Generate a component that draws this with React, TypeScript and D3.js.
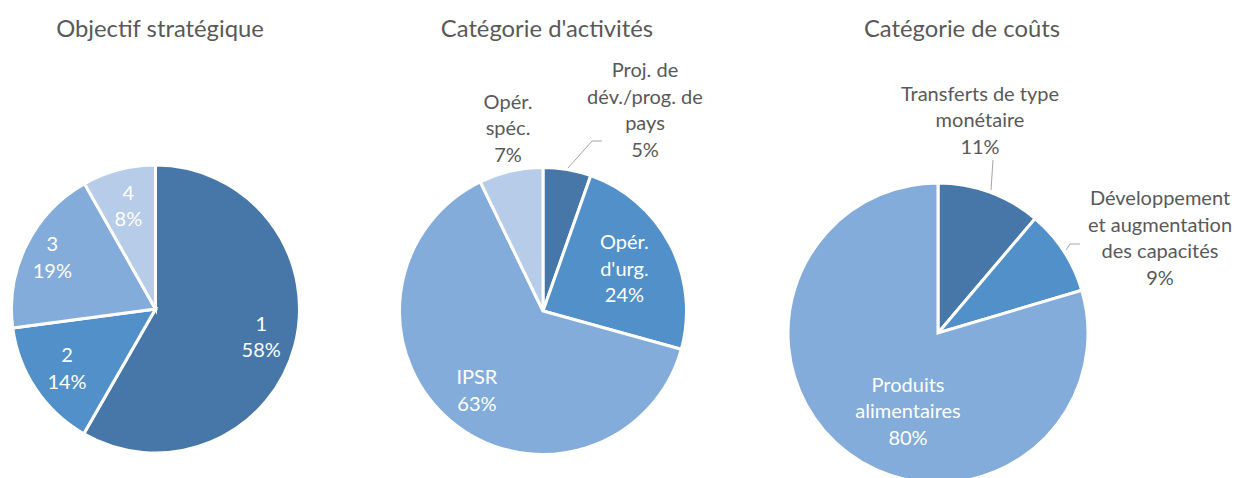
import React from "react";
import * as d3 from "d3";

// ---- Data ----
const objectifLabels = ["1", "2", "3", "4"];
const objectifValues = [58.3, 14.6, 18.9, 8.2];
const objectifPct = ["58%", "14%", "19%", "8%"];

const activitesLabels = [["Proj. de", "dév./prog. de", "pays"], ["Opér.", "d'urg."], ["IPSR"], ["Opér.", "spéc."]];
const activitesValues = [5.4, 23.9, 63.5, 7.2];
const activitesPct = ["5%", "24%", "63%", "7%"];

const coutsLabels = [["Transferts de type", "monétaire"], ["Développement", "et augmentation", "des capacités"], ["Produits", "alimentaires"]];
const coutsValues = [11.2, 9.2, 79.6];
const coutsPct = ["11%", "9%", "80%"];

const titles = ["Objectif stratégique", "Catégorie d'activités", "Catégorie de coûts"];

const sliceColors = ["#4677A8", "#5190C8", "#83ACDA", "#B6CCE8"];

// ---- Layout (styles / positions) ----
const FONT = "Lato, 'Open Sans', sans-serif";
const LINE_H = 26.5;
const LABEL_SIZE = 20;

type LabelSpec = { inside: boolean; dx?: number; dy?: number; frac?: number; leader?: [number, number][] };

const charts = [
  {
    title: titles[0], titleX: 160, cx: 155.5, cy: 309, r: 144,
    values: objectifValues, colors: sliceColors,
    lines: objectifLabels.map((l, i) => [l, objectifPct[i]]),
    labels: [
      { inside: true, frac: 0.76 }, { inside: true, frac: 0.74 }, { inside: true, frac: 0.8 }, { inside: true, frac: 0.74 },
    ] as LabelSpec[],
  },
  {
    title: titles[1], titleX: 547, cx: 543, cy: 311, r: 143.5,
    values: activitesValues, colors: sliceColors,
    lines: activitesLabels.map((l, i) => [...l, activitesPct[i]]),
    labels: [
      { inside: false, dx: 102, dy: -201, leader: [[25, -143], [49, -170], [59, -170]] },
      { inside: true, frac: 0.64 },
      { inside: true, frac: 0.72 },
      { inside: false, dx: -35, dy: -183 },
    ] as LabelSpec[],
  },
  {
    title: titles[2], titleX: 962, cx: 938, cy: 333, r: 150,
    values: coutsValues, colors: [sliceColors[0], sliceColors[1], sliceColors[2]],
    lines: coutsLabels.map((l, i) => [...l, coutsPct[i]]),
    labels: [
      { inside: false, dx: 42, dy: -213, leader: [[53, -143], [55, -173]] },
      { inside: false, dx: 222, dy: -95, leader: [[128, -83], [132, -89], [142, -89]] },
      { inside: true, dx: -30, dy: 78 },
    ] as LabelSpec[],
  },
];

function Pie({ c }: { c: (typeof charts)[number] }) {
  const pie = d3.pie<number>().sort(null).value((d) => d)(c.values);
  const arc = d3.arc<d3.PieArcDatum<number>>().innerRadius(0).outerRadius(c.r);
  return (
    <g>
      <text x={c.titleX} y={37} textAnchor="middle" fontFamily={FONT} fontSize={23.8} fill="#595959">
        {c.title}
      </text>
      <g transform={`translate(${c.cx},${c.cy})`}>
        {pie.map((p, i) => (
          <path key={i} d={arc(p) || ""} fill={c.colors[i]} stroke="#fff" strokeWidth={3} strokeLinejoin="miter" />
        ))}
        {pie.map((p, i) => {
          const spec = c.labels[i];
          const lines = c.lines[i];
          let x: number, y: number;
          if (spec.dx === undefined) {
            const a = (p.startAngle + p.endAngle) / 2;
            const rr = c.r * (spec.frac ?? 0.7);
            x = Math.sin(a) * rr;
            y = -Math.cos(a) * rr;
          } else {
            x = spec.dx!;
            y = spec.dy!;
          }
          const y0 = y - ((lines.length - 1) * LINE_H) / 2;
          return (
            <g key={"l" + i}>
              {spec.leader && (
                <polyline points={spec.leader.map((q) => q.join(",")).join(" ")} fill="none" stroke="#A6A6A6" strokeWidth={1} />
              )}
              <text textAnchor="middle" fontFamily={FONT} fontSize={LABEL_SIZE} fill={spec.inside ? "#fff" : "#595959"}>
                {lines.map((t, k) => (
                  <tspan key={k} x={x} y={y0 + k * LINE_H} dy="0.35em">
                    {t}
                  </tspan>
                ))}
              </text>
            </g>
          );
        })}
      </g>
    </g>
  );
}

export default function App() {
  return (
    <svg width={1235} height={478} style={{ position: "absolute", left: 0, top: 0, background: "#fff" }}>
      <rect width={1235} height={478} fill="#fff" />
      {charts.map((c, i) => (
        <Pie key={i} c={c} />
      ))}
    </svg>
  );
}
